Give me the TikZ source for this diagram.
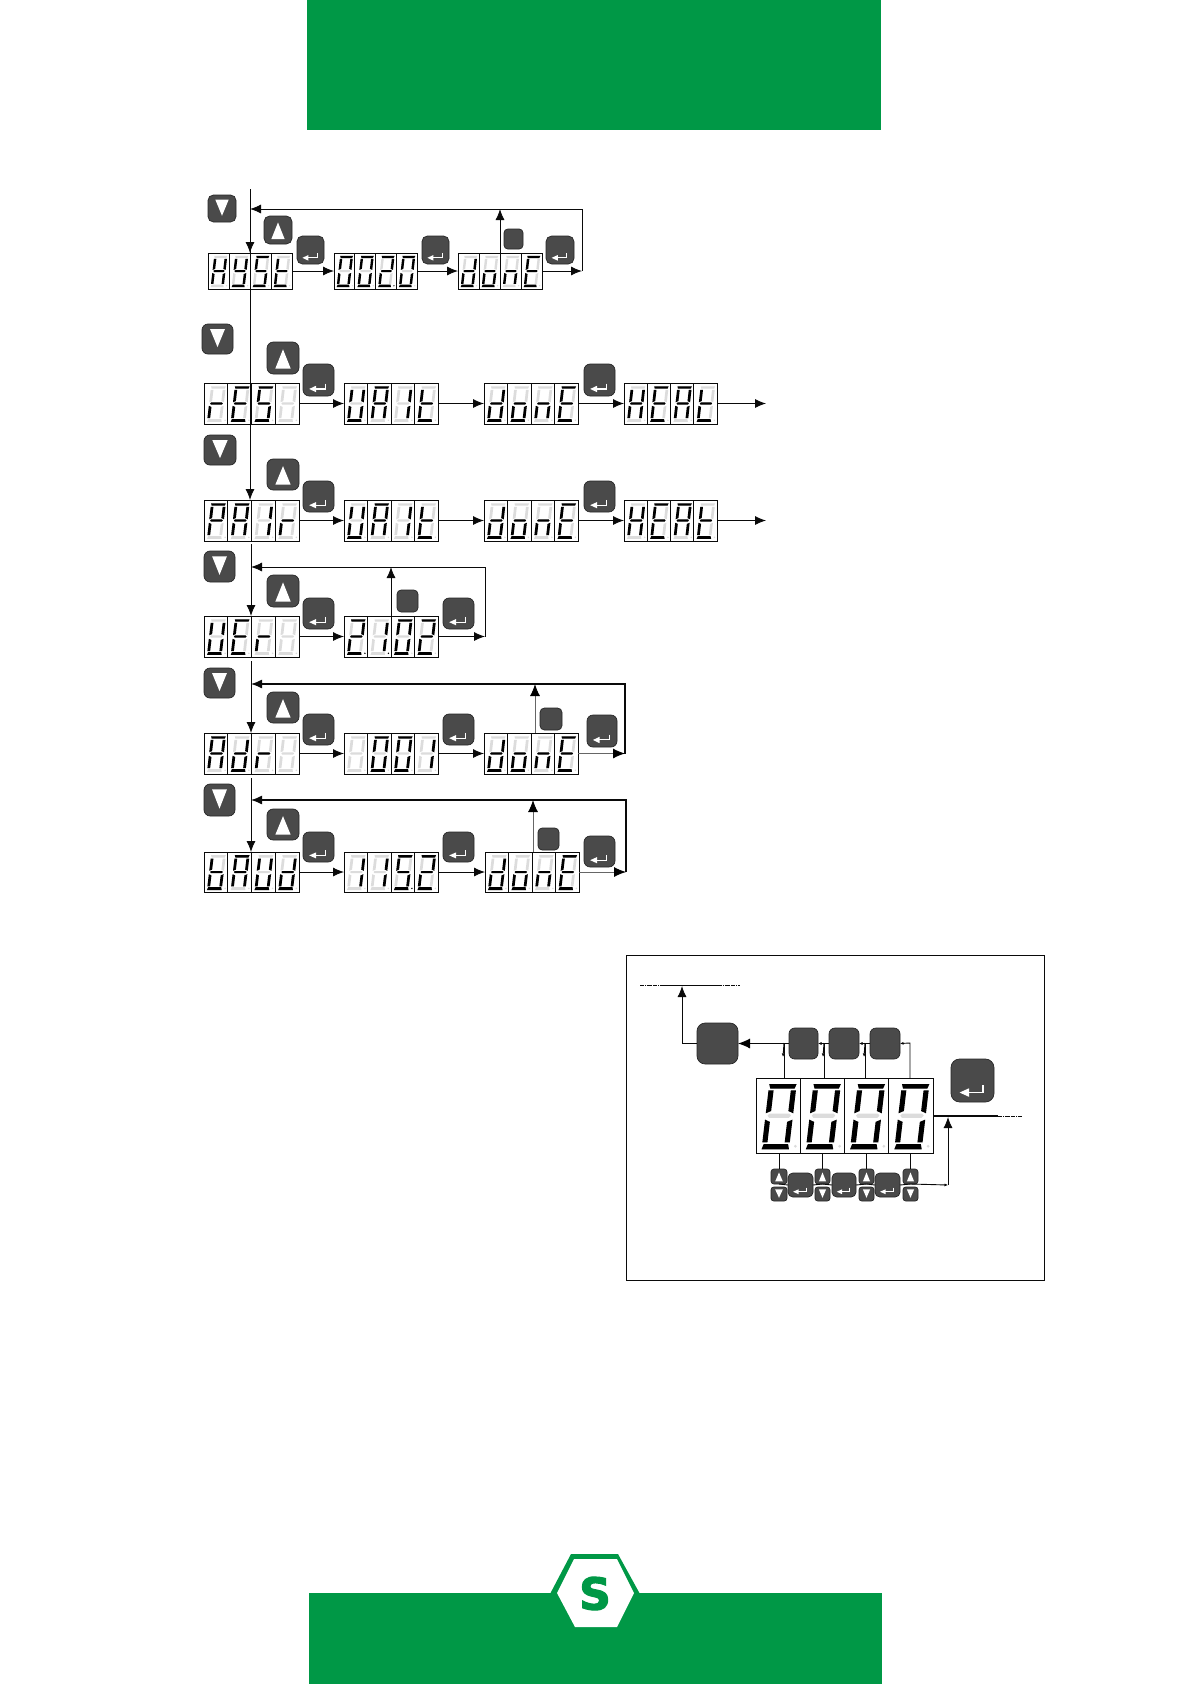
\documentclass[tikz,border=0pt]{standalone}
\usepackage{fontspec}
\setmainfont{DejaVu Sans}
\newfontfamily\logofont[BoldFeatures={FakeBold=2.5}]{DejaVu Sans}
\usetikzlibrary{arrows.meta}
\definecolor{sgreen}{HTML}{009846}
\definecolor{btnfill}{HTML}{4A4A4A}
\definecolor{segoff}{HTML}{DCDCDC}
\definecolor{ink}{HTML}{0A0A0A}
\tikzset{
  dispbox/.style={draw=ink,line width=1pt,fill=white,inner sep=0pt,outer sep=0pt},
  btnbox/.style={draw=black!85,line width=.7pt,fill=btnfill,inner sep=0pt,outer sep=0pt},
  conn/.style={draw=ink,line width=.9pt},
  arr/.style={conn,-{Latex[length=11pt,width=9pt]}},
  bigarr/.style={conn,-{Latex[length=12pt,width=10pt,color=black]}},
  tinyarr/.style={conn,-{Latex[length=3.5pt,width=3pt]}},
  dashline/.style={draw=ink,line width=.8pt,dash pattern=on 4pt off .8pt on 1pt off .8pt},
}
% segment shapes in cell units
\def\sega{(.215,.08)--(.835,.08)--(.80,.14)--(.25,.14)--cycle}
\def\segb{(.72,.165)--(.835,.165)--(.835,.47)--(.72,.44)--cycle}
\def\segc{(.72,.585)--(.835,.555)--(.835,.857)--(.72,.857)--cycle}
\def\segd{(.25,.88)--(.80,.88)--(.835,.95)--(.215,.95)--cycle}
\def\sege{(.215,.555)--(.33,.585)--(.33,.857)--(.215,.857)--cycle}
\def\segf{(.215,.165)--(.33,.165)--(.33,.44)--(.215,.47)--cycle}
\def\segg{(.26,.50)--(.30,.475)--(.75,.475)--(.79,.50)--(.75,.53)--(.30,.53)--cycle}
\def\segx{(0,0)}
\def\digB{x}
\def\digH{b,c,e,f,g}
\def\digY{b,c,d,f,g}
\def\digS{a,c,d,f,g}
\def\digt{d,e,f,g}
\def\digd{b,c,d,e,g}
\def\digo{c,d,e,g}
\def\dign{c,e,g}
\def\digE{a,d,e,f,g}
\def\digr{e,g}
\def\digU{b,c,d,e,f}
\def\digA{a,b,c,e,f,g}
\def\digP{a,b,e,f,g}
\def\digb{c,d,e,f,g}
\expandafter\def\csname dig0\endcsname{a,b,c,d,e,f}
\expandafter\def\csname dig1\endcsname{b,c}
\expandafter\def\csname dig2\endcsname{a,b,d,e,g}
\expandafter\def\csname dig5\endcsname{a,c,d,f,g}
% one digit cell: x0,y0,W,H,digit,dot
\newcommand\digcell[6]{%
  \pgfmathsetmacro\cellsx{#1+.1*#3}%
  \pgfmathsetmacro\cellsk{-.2*#3}%
  \pgfmathsetmacro\cellh{-1*#4}%
  \pgfmathsetmacro\cellr{.035*#3}%
  \begin{scope}[shift={(\cellsx,#2)},x={(#3pt,0pt)},y={(\cellsk pt,\cellh pt)}]
    \foreach \sname in {a,b,c,d,e,f,g}{%
      \expandafter\let\expandafter\segcur\csname seg\sname\endcsname
      \fill[segoff] \segcur;}
    \expandafter\let\expandafter\thisdig\csname dig#5\endcsname
    \foreach \sname in \thisdig{%
      \expandafter\let\expandafter\segcur\csname seg\sname\endcsname
      \fill[black] \segcur;}
    \ifnum#6=0 \fill[segoff] (.972,.91) circle[radius=\cellr pt];
    \else \fill[black] (.972,.91) circle[radius=\cellr pt];\fi
  \end{scope}}
% display: name,x0,x1,y0,y1,list of digit/dot
\newcommand\disp[6]{%
  \pgfmathsetmacro\dw{#3-#2}\pgfmathsetmacro\dh{#5-#4}%
  \pgfmathsetmacro\dcx{(#2+#3)/2}\pgfmathsetmacro\dcy{(#4+#5)/2}%
  \pgfmathsetmacro\cw{(#3-#2)/4}%
  \node[dispbox,minimum width=\dw pt,minimum height=\dh pt] (#1) at (\dcx,\dcy) {};
  \foreach \dgt/\dt [count=\ci from 0] in {#6}{%
    \pgfmathsetmacro\cx{#2+\ci*\cw}%
    \digcell{\cx}{#4}{\cw}{\dh}{\dgt}{\dt}
    \ifnum\ci>0 \draw[ink,line width=.8pt] (\cx,#4) -- (\cx,#5);\fi
  }}
\newcommand\btn[5]{%
  \pgfmathsetmacro\bw{#4-#2}\pgfmathsetmacro\bh{#5-#3}%
  \pgfmathsetmacro\bx{(#2+#4)/2}\pgfmathsetmacro\by{(#3+#5)/2}%
  \pgfmathsetmacro\brad{.2*min(\bw,\bh)}%
  \node[btnbox,rounded corners=\brad pt,minimum width=\bw pt,minimum height=\bh pt] (#1) at (\bx,\by) {};}
\newcommand\btnup[5]{\btn{#1}{#2}{#3}{#4}{#5}%
  \fill[white] ({\bx-.24*\bw},{\by+.33*\bh}) -- ({\bx+.24*\bw},{\by+.33*\bh}) -- (\bx,{\by-.27*\bh}) -- cycle;}
\newcommand\btndn[5]{\btn{#1}{#2}{#3}{#4}{#5}%
  \fill[white] ({\bx-.24*\bw},{\by-.33*\bh}) -- ({\bx+.24*\bw},{\by-.33*\bh}) -- (\bx,{\by+.27*\bh}) -- cycle;}
\newcommand\btnen[5]{\btn{#1}{#2}{#3}{#4}{#5}%
  \pgfmathsetmacro\blw{.035*\bw}%
  \draw[white,line width=\blw pt] ({\bx+.24*\bw},{\by+.11*\bh}) -- ({\bx+.24*\bw},{\by+.28*\bh}) -- ({\bx-.12*\bw},{\by+.28*\bh});
  \fill[white] ({\bx-.30*\bw},{\by+.28*\bh}) -- ({\bx-.08*\bw},{\by+.18*\bh}) -- ({\bx-.08*\bw},{\by+.38*\bh}) -- cycle;}
\begin{document}
\begin{tikzpicture}[x=1pt,y=-1pt]
\useasboundingbox (0,0) rectangle (1191,1684);
\fill[white] (0,0) rectangle (1191,1684);
% green bands
\fill[sgreen] (307,0) rectangle (881,130);
\fill[sgreen] (309,1593) rectangle (882,1684);
\fill[sgreen] (550,1594) -- (571,1554) -- (618,1554) -- (640,1594) -- cycle;
\fill[white] (557,1593) -- (574,1559) -- (617,1559) -- (634,1593) -- (617,1627) -- (575,1627) -- cycle;
\node[text=sgreen,font=\logofont\bfseries\fontsize{44}{44}\selectfont,inner sep=0pt] (logoS) at (595,1593.5) {S};

% ---- row 1
\disp{ra}{208}{292}{253}{289}{H/0,Y/0,S/0,t/0}
\disp{rb}{334}{417}{253}{289}{0/0,0/0,2/1,0/0}
\disp{rc}{458}{542}{253}{289}{d/0,o/0,n/0,E/0}
\btndn{r1dn}{208}{195}{236}{222}
\btnup{r1up}{264}{216}{292}{244}
\btnen{r1e1}{297}{236}{324}{264}
\btnen{r1e2}{422}{236}{449}{264}
\btnen{r1e3}{546}{236}{574}{264}
\btn{r1s}{504}{229}{523}{249}
% ---- row 2
\disp{sa}{204}{299}{383}{424}{r/0,E/0,S/0,B/0}
\disp{sb}{344}{438}{383}{424}{U/0,A/0,1/0,t/0}
\disp{sc}{484}{578}{383}{424}{d/0,o/0,n/0,E/0}
\disp{sd}{624}{717}{383}{424}{H/0,E/0,A/0,t/0}
\btndn{r2dn}{202}{324}{233}{354}
\btnup{r2up}{267}{342}{299}{374}
\btnen{r2e1}{303}{364}{334}{396}
\btnen{r2e2}{584}{364}{615}{396}
% ---- row 3
\disp{ta}{204}{299}{500}{541}{P/0,A/0,1/0,r/0}
\disp{tb}{344}{438}{500}{541}{U/0,A/0,1/0,t/0}
\disp{tc}{484}{578}{500}{541}{d/0,o/0,n/0,E/0}
\disp{td}{624}{717}{500}{541}{H/0,E/0,A/0,t/0}
\btndn{r3dn}{204}{435}{236}{465}
\btnup{r3up}{267}{459}{299}{490}
\btnen{r3e1}{303}{481}{334}{512}
\btnen{r3e2}{584}{481}{615}{512}
% ---- row 4
\disp{ua}{204}{299}{616}{657}{U/0,E/0,r/0,B/0}
\disp{ub}{344}{438}{616}{657}{2/1,1/1,0/0,2/0}
\btndn{r4dn}{204}{551}{235}{582}
\btnup{r4up}{267}{575}{299}{607}
\btnen{r4e1}{303}{598}{334}{629}
\btnen{r4e2}{443}{598}{474}{629}
\btn{r4s}{397}{590}{418}{612}
% ---- row 5
\disp{va}{204}{299}{733}{774}{A/0,d/0,r/0,B/0}
\disp{vb}{344}{438}{733}{774}{B/0,0/0,0/0,1/0}
\disp{vc}{484}{578}{733}{774}{d/0,o/0,n/0,E/0}
\btndn{r5dn}{204}{668}{235}{698}
\btnup{r5up}{267}{692}{299}{723}
\btnen{r5e1}{303}{714}{334}{745}
\btnen{r5e2}{443}{714}{474}{745}
\btnen{r5e3}{587}{715}{617}{747}
\btn{r5s}{540}{708}{562}{730}
% ---- row 6
\disp{wa}{204}{299}{852}{892}{b/0,A/0,U/0,d/0}
\disp{wb}{344}{438}{852}{892}{1/0,1/0,5/1,2/0}
\disp{wc}{485}{579}{852}{892}{d/0,o/0,n/0,E/0}
\btndn{r6dn}{204}{784}{235}{816}
\btnup{r6up}{267}{809}{299}{840}
\btnen{r6e1}{303}{832}{334}{862}
\btnen{r6e2}{443}{832}{474}{862}
\btnen{r6e3}{584}{836}{615}{867}
\btn{r6s}{538}{828}{559}{850}

% ---- main line and down arrows
\coordinate (m1) at (250,189);
\coordinate (m4) at (251,544);
\coordinate (m5) at (251,661);
\coordinate (m6) at (251,778);
\draw[arr] (m1) -- (m1 |- ra.north);
\draw[arr] (m1) -- (m1 |- ta.north);
\draw[arr] (m4) -- (m4 |- ua.north);
\draw[arr] (m5) -- (m5 |- va.north);
\draw[arr] (m6) -- (m6 |- wa.north);

% ---- row connectors
\draw[arr] (ra.east) -- (rb.west);
\draw[arr] (rb.east) -- (rc.west);
\coordinate (c1) at (582,271);
\coordinate (f1) at (250,209);
\coordinate (u1) at (500,253);
\draw[arr] (rc.east) -- (c1);
\draw[arr] (c1) |- (f1);
\draw[arr] (u1) -- (u1 |- f1);

\draw[arr] (sa.east) -- (sb.west);
\draw[arr] (sb.east) -- (sc.west);
\draw[arr] (sc.east) -- (sd.west);
\coordinate (e2) at (766,403.5);
\draw[arr] (sd.east) -- (e2);

\draw[arr] (ta.east) -- (tb.west);
\draw[arr] (tb.east) -- (tc.west);
\draw[arr] (tc.east) -- (td.west);
\coordinate (e3) at (766,520.5);
\draw[arr] (td.east) -- (e3);

\draw[arr] (ua.east) -- (ub.west);
\coordinate (c4) at (485,636.5);
\coordinate (f4) at (251,567);
\coordinate (u4) at (391,616);
\draw[arr] (ub.east) -- (c4);
\draw[arr] (c4) |- (f4);
\draw[arr] (u4) -- (u4 |- f4);

\draw[arr] (va.east) -- (vb.west);
\draw[arr] (vb.east) -- (vc.west);
\coordinate (c5) at (625,753.5);
\coordinate (f5) at (251,684);
\coordinate (u5) at (535,733);
\draw[bigarr,draw=black!60] (vc.east) -- (c5);
\draw[arr,line width=1.3pt] (c5) |- (f5);
\draw[bigarr,draw=black!60] (u5) -- (u5 |- f5);

\draw[arr] (wa.east) -- (wb.west);
\draw[arr] (wb.east) -- (wc.west);
\coordinate (c6) at (626,872);
\coordinate (f6) at (251,800);
\coordinate (u6) at (533,852);
\draw[bigarr,draw=black!60] (wc.east) -- (c6);
\draw[arr,line width=1.3pt] (c6) |- (f6);
\draw[bigarr,draw=black!60] (u6) -- (u6 |- f6);

% ---- panel
\node[draw=ink,line width=.9pt,inner sep=0pt,minimum width=418pt,minimum height=325pt] (panel) at (835,1117.5) {};
\disp{bd}{756}{933}{1078}{1153}{0/0,0/0,0/0,0/0}
\btn{pbig}{697}{1023}{738}{1064}
\btn{pa}{789}{1028}{818}{1059}
\btn{pb}{829}{1028}{859}{1059}
\btn{pc}{870}{1028}{900}{1059}
\btnen{pent}{951}{1059}{994}{1102}
\btnup{u1b}{771}{1169}{787}{1184}
\btndn{d1b}{771}{1187}{787}{1201}
\btnup{u2b}{815}{1169}{830}{1184}
\btndn{d2b}{815}{1187}{830}{1201}
\btnup{u3b}{859}{1169}{874}{1184}
\btndn{d3b}{859}{1187}{874}{1201}
\btnup{u4b}{903}{1169}{918}{1184}
\btndn{d4b}{903}{1187}{918}{1201}
\btnen{e1b}{788}{1173}{813}{1197}
\btnen{e2b}{832}{1173}{856}{1197}
\btnen{e3b}{875}{1173}{900}{1197}
% panel top line
\coordinate (t0) at (640,985);
\coordinate (t1) at (662,985);
\coordinate (t2) at (718,985);
\coordinate (t3) at (740,985);
\coordinate (ta0) at (682,986);
\coordinate (tb0) at (682,1043);
\draw[dashline] (t0) -- (t1);
\draw[conn] (t1) -- (t2);
\draw[dashline] (t2) -- (t3);
\draw[arr] (pbig.west |- tb0) -- (tb0) -- (ta0);
\draw[bigarr] (pa.west) -- (pbig.east);
\draw[tinyarr] (pb.west) -- (pa.east);
\draw[tinyarr] (pc.west) -- (pb.east);
% display up connectors
\coordinate (uu1) at (784,1043);
\coordinate (uu2) at (824,1043);
\coordinate (uu3) at (865,1043);
\coordinate (uu4) at (910,1043);
\coordinate (ub1) at (784,1078);
\coordinate (ub2) at (824,1078);
\coordinate (ub3) at (865,1078);
\coordinate (ub4) at (910,1078);
\coordinate (tip1) at (783,1057);
\coordinate (tip2) at (823,1057);
\coordinate (tip3) at (864,1057);
\draw[conn] (ub1) -- (uu1);
\draw[conn] (ub2) -- (uu2);
\draw[conn] (ub3) -- (uu3);
\draw[tinyarr] (ub4) -- (uu4) -- (pc.east);
\draw[tinyarr] (uu1) -- (tip1);
\draw[tinyarr] (uu2) -- (tip2);
\draw[tinyarr] (uu3) -- (tip3);
% display right
\coordinate (r1) at (998,1116);
\coordinate (r2) at (1022,1116);
\coordinate (rin) at (933,1116);
\coordinate (ar0) at (948,1185);
\coordinate (ar1) at (948,1117);
\draw[ink,line width=1.6pt] (rin) -- (r1);
\draw[dashline] (r1) -- (r2);
\draw[arr] (ar0) -- (ar1);
% display down connectors
\draw[conn] (u1b.north) -- (u1b.north |- bd.south);
\draw[conn,line width=1.3pt] (u2b.north) -- (u2b.north |- bd.south);
\draw[conn] (u3b.north) -- (u3b.north |- bd.south);
\draw[conn] (u4b.north) -- (u4b.north |- bd.south);
% lower chain
\draw[conn] (u1b.south) -- (e1b.west);
\draw[conn] (e1b.east) -- (u2b.south);
\draw[conn] (u2b.south) -- (e2b.west);
\draw[conn] (e2b.east) -- (u3b.south);
\draw[conn] (u3b.south) -- (e3b.west);
\draw[conn] (e3b.east) -- (u4b.south);
\draw[tinyarr] (u4b.south) -- (ar0);
\end{tikzpicture}
\end{document}
